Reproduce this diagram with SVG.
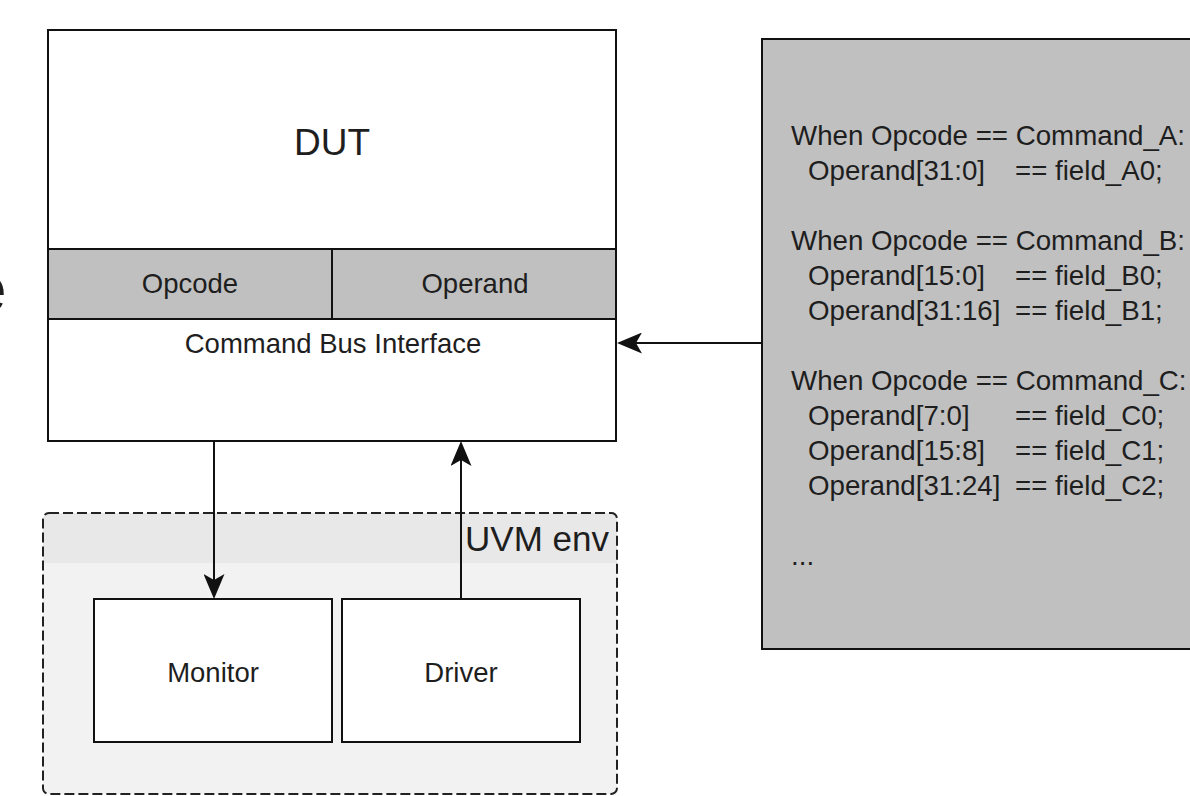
<svg xmlns="http://www.w3.org/2000/svg" width="1190" height="796" viewBox="0 0 1190 796">
  <style>
    text { font-family: "Liberation Sans", Arial, Helvetica, sans-serif; fill: #1e1e1e; }
    .box { fill: #ffffff; stroke: #111; stroke-width: 2; }
    .field { fill: #c0c0c0; stroke: #111; stroke-width: 2; }
    .wire { fill: none; stroke: #111; stroke-width: 2; }
    .lbl { font-size: 27.5px; text-anchor: middle; }
    .code { font-size: 27.7px; }
  </style>
  <defs>
    <marker id="arrow" viewBox="0 0 25 21" refX="6" refY="10.5" markerWidth="25" markerHeight="21" markerUnits="userSpaceOnUse" orient="auto">
      <path d="M0,0 L25,10.5 L0,21 L6,10.5 Z" fill="#111"/>
    </marker>
  </defs>

  <rect width="1190" height="796" fill="#ffffff"/>

  <!-- stray glyph at left margin, mostly outside the page -->
  <text x="-29" y="311" font-size="64">e</text>

  <!-- DUT block -->
  <g id="dut">
    <rect class="box" x="48" y="30" width="568" height="411"/>
    <text x="332" y="155" font-size="37" text-anchor="middle">DUT</text>
  </g>
  <g id="opcode">
    <rect class="field" x="48" y="249" width="284" height="70"/>
    <text class="lbl" x="190" y="293">Opcode</text>
  </g>
  <g id="operand">
    <rect class="field" x="332" y="249" width="284" height="70"/>
    <text class="lbl" x="475" y="293">Operand</text>
  </g>
  <g id="cmd-bus">
    <text class="lbl" x="333" y="353">Command Bus Interface</text>
  </g>

  <!-- UVM environment container -->
  <g id="uvm-env">
    <rect x="43" y="513" width="574" height="281" rx="6" fill="#f2f2f2"/>
    <path d="M43,563 V519 A6,6 0 0 1 49,513 H611 A6,6 0 0 1 617,519 V563 Z" fill="#e8e8e8"/>
    <rect x="43" y="513" width="574" height="281" rx="6" fill="none" stroke="#222" stroke-width="2" stroke-dasharray="10 4"/>
    <text x="609" y="551" font-size="35" text-anchor="end">UVM env</text>
  </g>
  <g id="monitor">
    <rect class="box" x="94" y="599" width="238" height="143"/>
    <text class="lbl" x="213" y="682">Monitor</text>
  </g>
  <g id="driver">
    <rect class="box" x="342" y="599" width="238" height="143"/>
    <text class="lbl" x="461" y="682">Driver</text>
  </g>

  <!-- command encoding notes -->
  <g id="notes">
    <rect class="field" x="762" y="39" width="440" height="610"/>
    <text class="code" x="791" y="145">When Opcode == Command_A:</text>
    <text class="code" x="808" y="180">Operand[31:0]</text>
    <text class="code" x="1015" y="180">== field_A0;</text>
    <text class="code" x="791" y="250">When Opcode == Command_B:</text>
    <text class="code" x="808" y="285">Operand[15:0]</text>
    <text class="code" x="1015" y="285">== field_B0;</text>
    <text class="code" x="808" y="320">Operand[31:16]</text>
    <text class="code" x="1015" y="320">== field_B1;</text>
    <text class="code" x="791" y="390">When Opcode == Command_C:</text>
    <text class="code" x="808" y="425">Operand[7:0]</text>
    <text class="code" x="1015" y="425">== field_C0;</text>
    <text class="code" x="808" y="460">Operand[15:8]</text>
    <text class="code" x="1015" y="460">== field_C1;</text>
    <text class="code" x="808" y="495">Operand[31:24]</text>
    <text class="code" x="1015" y="495">== field_C2;</text>
    <text class="code" x="791" y="565">...</text>
  </g>

  <!-- connectors -->
  <g id="connectors">
    <line class="wire" x1="762" y1="343" x2="636" y2="343" marker-end="url(#arrow)"/>
    <line class="wire" x1="214" y1="441" x2="214" y2="580" marker-end="url(#arrow)"/>
    <line class="wire" x1="461" y1="599" x2="461" y2="460" marker-end="url(#arrow)"/>
  </g>
</svg>
